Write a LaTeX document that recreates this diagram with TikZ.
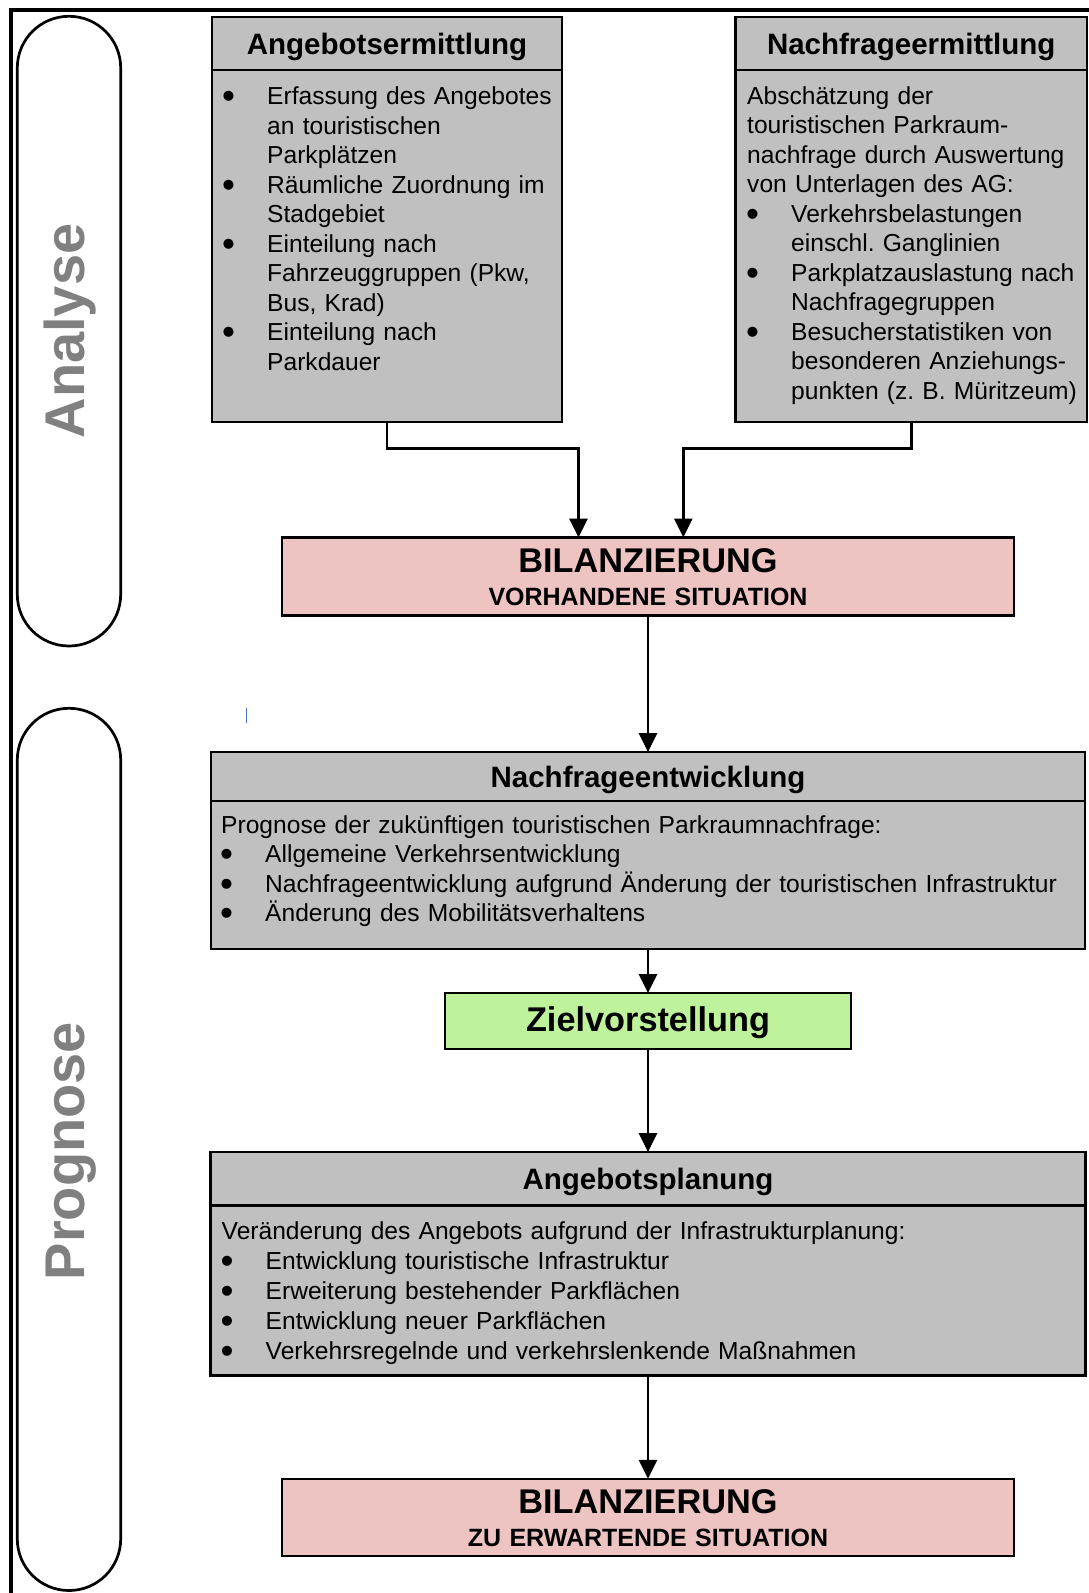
\documentclass[tikz,border=0pt]{standalone}
\usepackage{fontspec}
\setmainfont{Liberation Sans}
\usetikzlibrary{positioning, arrows.meta}

\definecolor{boxgray}{RGB}{192,192,192}
\definecolor{bilpink}{RGB}{238,196,195}
\definecolor{zielgreen}{RGB}{190,242,155}
\definecolor{labelgray}{RGB}{128,128,128}
\definecolor{cursorblue}{RGB}{68,114,196}

\newlength{\bulw}\setlength{\bulw}{44pt}
\newcommand{\bul}{\makebox[\bulw][l]{\hspace*{-1pt}\raisebox{-4pt}{\scalebox{1.5}{\textbullet}}}}
\newcommand{\bulgap}{\hspace*{\bulw}}
\newcommand{\fbody}{\fontsize{24.6pt}{29.5pt}\selectfont\frenchspacing}
\newcommand{\fbodywide}{\fontsize{24.6pt}{30.2pt}\selectfont\frenchspacing}
\newcommand{\fhead}{\fontsize{29.5pt}{35pt}\selectfont\bfseries}
\newcommand{\fbig}{\fontsize{34.3pt}{40pt}\selectfont\bfseries}
\newcommand{\fsub}{\fontsize{25pt}{33.3pt}\selectfont\bfseries}
\newcommand{\fside}{\fontsize{56pt}{62pt}\selectfont\bfseries}

\tikzstyle{headbox} = [rectangle, draw=black, line width=2.3pt, fill=boxgray, inner sep=0pt, outer sep=0pt, font=\fhead, text height=21.1pt, text depth=0pt]
\tikzstyle{bodybox} = [rectangle, draw=black, line width=2.3pt, fill=boxgray, inner sep=0pt, outer sep=0pt]
\tikzstyle{bodytxt} = [anchor=base west, inner sep=0pt, align=left, font=\fbody]
\tikzstyle{bilbox} = [rectangle, draw=black, line width=2.3pt, fill=bilpink, inner sep=0pt, outer sep=0pt, minimum width=732pt, text width=732pt, align=center, font=\fsub, text height=24.6pt, text depth=33.3pt]
\tikzstyle{zielbox} = [rectangle, draw=black, line width=2.3pt, fill=zielgreen, inner sep=0pt, outer sep=0pt, minimum width=406pt, minimum height=56pt, font=\fbig, text height=24.6pt, text depth=4pt]
\tikzstyle{arrow} = [line width=2.9pt, -{Triangle[length=19pt, width=18pt]}]
\tikzstyle{capsule} = [draw=black, line width=2.7pt, rounded corners=51.6pt]
\tikzstyle{sidelabel} = [rotate=90, anchor=base, inner sep=0pt, text=labelgray, font=\fside]

\begin{document}
\begin{tikzpicture}[x=1pt, y=-1pt]
\useasboundingbox (0,0) rectangle (1089,1593);

% frame and phases
\draw[line width=4pt] (10.5,1593) -- (10.5,9.5) -- (1089,9.5);
\draw[capsule] (17.3,16.3) rectangle (120.7,646);
\draw[capsule] (17.3,708.3) rectangle (120.7,1590.5);
\node (analyse) [sidelabel] at (84,331) {Analyse};
\node (prognose) [sidelabel] at (84,1151) {Prognose};

% Analyse
\node (ae) [headbox, minimum width=350pt, minimum height=53.2pt] at (387,43.6) {Angebotsermittlung};
\node (aeBody) [bodybox, below=0pt of ae, minimum width=350pt, minimum height=351.5pt] {};
\node (aeText) [bodytxt, text width=330pt, xshift=11pt, yshift=-34.6pt] at (aeBody.north west) {%
\bul Erfassung des Angebotes\\
\bulgap an touristischen\\
\bulgap Parkplätzen\\
\bul Räumliche Zuordnung im\\
\bulgap Stadgebiet\\
\bul Einteilung nach\\
\bulgap Fahrzeuggruppen (Pkw,\\
\bulgap Bus, Krad)\\
\bul Einteilung nach\\
\bulgap Parkdauer};

\node (ne) [headbox, minimum width=351.5pt, minimum height=53.2pt] at (911.25,43.6) {Nachfrageermittlung};
\node (neBody) [bodybox, below=0pt of ne, minimum width=351.5pt, minimum height=351.5pt] {};
\node (neText) [bodytxt, text width=340pt, xshift=11.5pt, yshift=-34pt] at (neBody.north west) {%
Abschätzung der\\
touristischen Parkraum-\\
nachfrage durch Auswertung\\
von Unterlagen des AG:\\
\bul Verkehrsbelastungen\\
\bulgap einschl. Ganglinien\\
\bul Parkplatzauslastung nach\\
\bulgap Nachfragegruppen\\
\bul Besucherstatistiken von\\
\bulgap besonderen Anziehungs-\\
\bulgap punkten (z. B. Müritzeum)};

\node (bil1) [bilbox, minimum height=78pt] at (648,576.5) {{\fbig BILANZIERUNG}\\VORHANDENE SITUATION};

\draw [arrow] (aeBody.south) -- ++(0,27) -| ([xshift=-69.5pt]bil1.north);
\draw [arrow] (neBody.south) -- ++(0,27) -| ([xshift=35.3pt]bil1.north);

\draw [cursorblue, line width=1.3pt] (246.7,708) -- (246.7,723);

% Prognose
\node (nentw) [headbox, minimum width=874pt, minimum height=49pt] at (648,776.5) {Nachfrageentwicklung};
\node (nentwBody) [bodybox, below=0pt of nentw, minimum width=874pt, minimum height=148pt] {};
\node (nentwText) [bodytxt, text width=850pt, xshift=10pt, yshift=-32pt] at (nentwBody.north west) {%
Prognose der zukünftigen touristischen Parkraumnachfrage:\\
\bul Allgemeine Verkehrsentwicklung\\
\bul Nachfrageentwicklung aufgrund Änderung der touristischen Infrastruktur\\
\bul Änderung des Mobilitätsverhaltens};

\node (ziel) [zielbox] at (648,1021) {Zielvorstellung};

\node (ap) [headbox, minimum width=875pt, minimum height=53.5pt] at (648,1178.75) {Angebotsplanung};
\node (apBody) [bodybox, below=0pt of ap, minimum width=875pt, minimum height=170pt] {};
\node (apText) [bodytxt, font=\fbodywide, text width=850pt, xshift=11pt, yshift=-33.5pt] at (apBody.north west) {%
Veränderung des Angebots aufgrund der Infrastrukturplanung:\\
\bul Entwicklung touristische Infrastruktur\\
\bul Erweiterung bestehender Parkflächen\\
\bul Entwicklung neuer Parkflächen\\
\bul Verkehrsregelnde und verkehrslenkende Maßnahmen};

\node (bil2) [bilbox, minimum height=77.2pt] at (648,1517.4) {{\fbig BILANZIERUNG}\\ZU ERWARTENDE SITUATION};

\draw [arrow] (bil1.south) -- (nentw.north);
\draw [arrow] (nentwBody.south) -- (ziel.north);
\draw [arrow] (ziel.south) -- (ap.north);
\draw [arrow] (apBody.south) -- (bil2.north);
\end{tikzpicture}
\end{document}
